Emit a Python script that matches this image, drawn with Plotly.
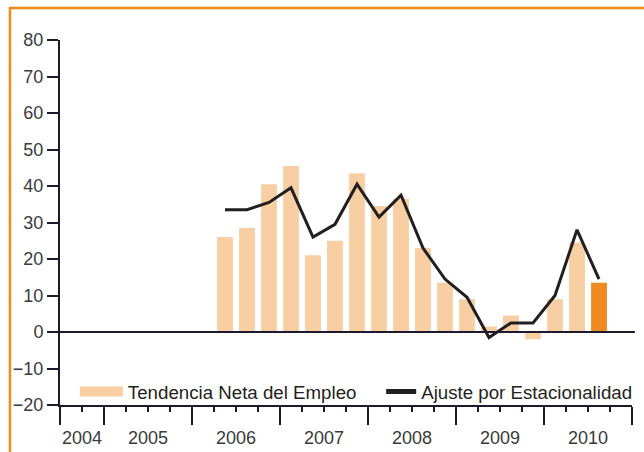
import plotly.graph_objects as go

# ---- data ----
years = ["2004", "2005", "2006", "2007", "2008", "2009", "2010"]
quarters_per_year = [2, 4, 4, 4, 4, 4, 4]          # 2004 starts at Q3
periods = ["2006 T2", "2006 T3", "2006 T4",
           "2007 T1", "2007 T2", "2007 T3", "2007 T4",
           "2008 T1", "2008 T2", "2008 T3", "2008 T4",
           "2009 T1", "2009 T2", "2009 T3", "2009 T4",
           "2010 T1", "2010 T2", "2010 T3"]
tendencia = [26, 28.5, 40.5, 45.5, 21, 25, 43.5, 34.5, 36.5, 23,
             13.5, 9, 1.5, 4.5, -2, 9, 24.5, 13.5]
ajuste = [33.5, 33.5, 35.5, 39.5, 26, 29.5, 40.5, 31.5, 37.5, 23,
          14.5, 9.5, -1.5, 2.5, 2.5, 10, 28, 14.5]
y_ticks = [-20, -10, 0, 10, 20, 30, 40, 50, 60, 70, 80]

# ---- quarter index axis ----
all_q = []
for y, n in zip(years, quarters_per_year):
    start = 5 - n
    for q in range(start, 5):
        all_q.append(f"{y} T{q}")
xpos = [all_q.index(p) for p in periods]
year_bounds = [-0.5]
for n in quarters_per_year:
    year_bounds.append(year_bounds[-1] + n)
year_centers = [(a + b) / 2 for a, b in zip(year_bounds[:-1], year_bounds[1:])]

PEACH = "#F7CFA3"
ORANGE = "#EE8A20"
DARK = "#231F20"
AXIS = "#1B1A2E"
TXT = "#3A3A3A"

bar_colors = [PEACH] * (len(tendencia) - 1) + [ORANGE]

fig = go.Figure()
fig.add_trace(go.Bar(x=xpos, y=tendencia, marker_color=bar_colors,
                     marker_line_width=0, showlegend=False,
                     name="Tendencia Neta del Empleo"))
fig.add_trace(go.Scatter(x=xpos, y=ajuste, mode="lines",
                         line=dict(color=DARK, width=3), showlegend=False,
                         name="Ajuste por Estacionalidad"))
# legend entries
fig.add_trace(go.Scatter(x=[None], y=[None], mode="lines",
                         line=dict(color=PEACH, width=11),
                         name="Tendencia Neta del Empleo", legend="legend"))
fig.add_trace(go.Scatter(x=[None], y=[None], mode="lines",
                         line=dict(color=DARK, width=5),
                         name="Ajuste por Estacionalidad", legend="legend2"))
# year labels axis
fig.add_trace(go.Scatter(x=[None], y=[None], xaxis="x2", showlegend=False))

x_range = [year_bounds[0], year_bounds[-1]]

fig.update_layout(
    width=644, height=452,
    margin=dict(l=60, r=7, t=40, b=47),
    paper_bgcolor="white", plot_bgcolor="white",
    font=dict(family="Liberation Sans, Arial, sans-serif", color=TXT, size=18),
    bargap=0.28,
    xaxis=dict(range=x_range, showgrid=False, zeroline=False, automargin=False,
               showline=True, linecolor=AXIS, linewidth=2,
               tickmode="array", tickvals=year_bounds, ticks="outside",
               ticklen=18, tickwidth=2, tickcolor=AXIS, showticklabels=False,
               minor=dict(dtick=1, tick0=-0.5, ticks="outside", ticklen=5,
                          tickwidth=2, tickcolor=AXIS, showgrid=False)),
    xaxis2=dict(range=x_range, overlaying="x", side="bottom", automargin=False,
                showgrid=False, zeroline=False, showline=False,
                tickmode="array", tickvals=year_centers, ticktext=years,
                ticks="outside", ticklen=16, tickcolor="rgba(0,0,0,0)",
                tickfont=dict(size=18, color=TXT)),
    yaxis=dict(range=[-20, 80], tickmode="array", tickvals=y_ticks,
               automargin=False,
               showgrid=False, zeroline=False, showline=True,
               linecolor=AXIS, linewidth=2, ticks="outside", ticklen=11,
               tickwidth=2, tickcolor=AXIS, tickfont=dict(size=18, color=TXT)),
    legend=dict(orientation="h", x=0.026, y=0.036, xanchor="left",
                yanchor="middle", bgcolor="rgba(0,0,0,0)",
                font=dict(size=18.7, color=DARK), itemwidth=43),
    legend2=dict(orientation="h", x=0.5615, y=0.036, xanchor="left",
                 yanchor="middle", bgcolor="rgba(0,0,0,0)",
                 font=dict(size=18.7, color=DARK), itemwidth=30),
    shapes=[
        dict(type="line", xref="x domain", yref="y", x0=0, x1=1.005,
             y0=0, y1=0, line=dict(color=AXIS, width=2), layer="above"),
        dict(type="rect", xref="paper", yref="paper", x0=-0.0875, x1=1.2,
             y0=-0.5, y1=1.0875, line=dict(color=ORANGE, width=2.5),
             fillcolor="rgba(0,0,0,0)", layer="below"),
    ],
)

fig.write_html("out.html", config={"displayModeBar": False},
               post_script="document.body.style.margin='0';")
